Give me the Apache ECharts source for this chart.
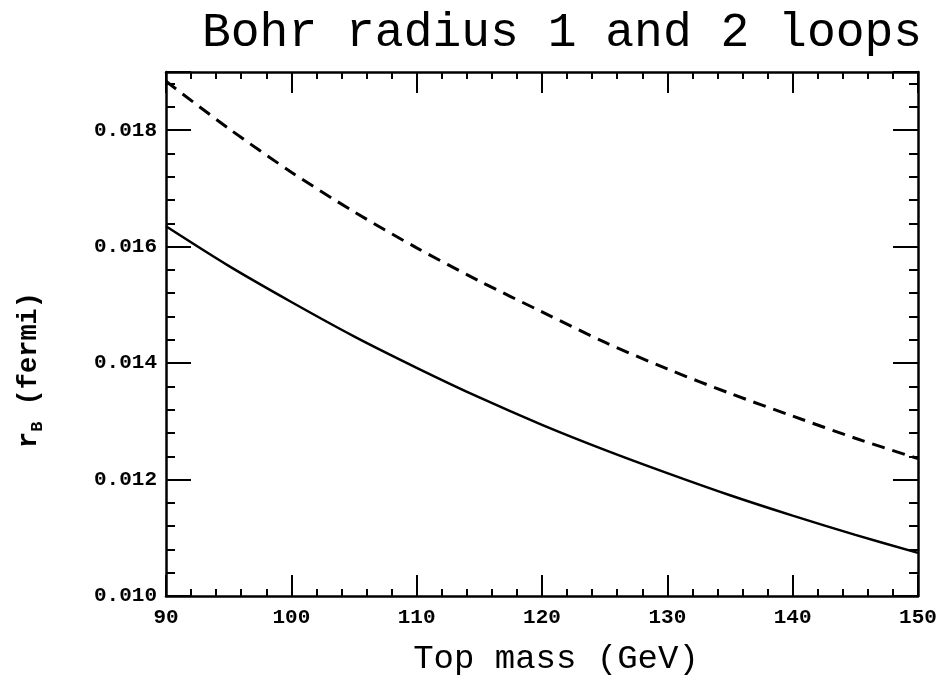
<!DOCTYPE html>
<html>
<head>
<meta charset="utf-8">
<script src="https://cdn.jsdelivr.net/npm/echarts@6/dist/echarts.min.js"></script>
<style>
html,body{margin:0;padding:0;background:#fff;}
#chart{width:942px;height:681px;}
</style>
</head>
<body>
<div id="chart"></div>
<script>
// Top mass (GeV)
const massGeV = [90, 95, 100, 105, 110, 115, 120, 125, 130, 135, 140, 145, 150];
// Bohr radius r_B (fermi), solid curve
const radiusSolid = [0.01635, 0.01567, 0.01505, 0.01446, 0.01392, 0.01341, 0.01294, 0.01251, 0.01211, 0.01173, 0.01138, 0.01105, 0.01074];
// Bohr radius r_B (fermi), dashed curve
const radiusDashed = [0.01884, 0.01803, 0.01728, 0.01660, 0.01598, 0.01541, 0.01488, 0.01436, 0.01390, 0.01348, 0.01309, 0.01271, 0.01236];

const xTickLabels = ['90', '100', '110', '120', '130', '140', '150'];
const yTickLabels = ['0.010', '0.012', '0.014', '0.016', '0.018'];

const chart = echarts.init(document.getElementById('chart'), null, {renderer: 'canvas'});

const FONT = '"Liberation Mono", "DejaVu Sans Mono", monospace';
const black = '#000';

function xAxisDef(pos, interval, tickLen, showLine, showLabel) {
  return {
    type: 'value', position: pos, min: 90, max: 150, interval: interval,
    axisLine: {show: showLine, onZero: false, lineStyle: {color: black, width: 2.5}},
    axisTick: {show: true, inside: true, length: tickLen, lineStyle: {color: black, width: 2}},
    splitLine: {show: false},
    axisLabel: showLabel ? {
      show: true, margin: 11, color: black, fontFamily: FONT, fontWeight: 'bold', fontSize: 21,
      formatter: function (v) {
        const i = Math.round((v - 90) / 10);
        return (Math.abs(v - (90 + 10 * i)) < 1e-6 && xTickLabels[i]) ? xTickLabels[i] : '';
      }
    } : {show: false}
  };
}
function yAxisDef(pos, interval, tickLen, showLine, showLabel) {
  return {
    type: 'value', position: pos, min: 0.010, max: 0.019, interval: interval,
    axisLine: {show: showLine, onZero: false, lineStyle: {color: black, width: 2.5}},
    axisTick: {show: true, inside: true, length: tickLen, lineStyle: {color: black, width: 2}},
    splitLine: {show: false},
    axisLabel: showLabel ? {
      show: true, margin: 9, color: black, fontFamily: FONT, fontWeight: 'bold', fontSize: 21,
      formatter: function (v) {
        const i = Math.round((v - 0.010) / 0.002);
        return (Math.abs(v - (0.010 + 0.002 * i)) < 1e-7 && yTickLabels[i]) ? yTickLabels[i] : '';
      }
    } : {show: false}
  };
}

const xMain = xAxisDef('bottom', 10, 21, true, true);
xMain.name = 'Top mass (GeV)';
xMain.nameLocation = 'middle';
xMain.nameGap = 46;
xMain.nameTextStyle = {color: black, fontFamily: FONT, fontSize: 34, padding: [0, 0, 0, 28]};

const option = {
  backgroundColor: '#fff',
  animation: false,
  title: {
    text: 'Bohr radius 1 and 2 loops',
    left: 197, top: 4,
    textStyle: {color: black, fontFamily: FONT, fontWeight: 'normal', fontSize: 48}
  },
  grid: {left: 166, right: 24, top: 72, bottom: 76, containLabel: false},
  xAxis: [
    xMain,
    xAxisDef('bottom', 2, 7, false, false),
    xAxisDef('top', 10, 21, true, false),
    xAxisDef('top', 2, 7, false, false)
  ],
  yAxis: [
    yAxisDef('left', 0.002, 25, true, true),
    yAxisDef('left', 0.0004, 9, false, false),
    yAxisDef('right', 0.002, 25, true, false),
    yAxisDef('right', 0.0004, 9, false, false)
  ],
  graphic: [{
    type: 'text',
    x: 29, y: 370,
    rotation: Math.PI / 2,
    style: {
      text: '{r|r}{s|B}{n| (fermi)}',
      align: 'center', verticalAlign: 'middle',
      fill: black,
      rich: {
        r: {fontFamily: FONT, fontWeight: 'bold', fontSize: 27, lineHeight: 34, verticalAlign: 'middle', fill: black},
        s: {fontFamily: FONT, fontWeight: 'bold', fontSize: 17, lineHeight: 17, verticalAlign: 'bottom', fill: black},
        n: {fontFamily: FONT, fontWeight: 'bold', fontSize: 27, lineHeight: 34, verticalAlign: 'middle', fill: black}
      }
    }
  }],
  series: [
    {
      name: 'solid', type: 'line', xAxisIndex: 0, yAxisIndex: 0,
      data: massGeV.map((m, i) => [m, radiusSolid[i]]),
      smooth: 0.3, showSymbol: false, symbol: 'none',
      lineStyle: {color: black, width: 2.5, type: 'solid'}
    },
    {
      name: 'dashed', type: 'line', xAxisIndex: 0, yAxisIndex: 0,
      data: massGeV.map((m, i) => [m, radiusDashed[i]]),
      smooth: 0.3, showSymbol: false, symbol: 'none',
      lineStyle: {color: black, width: 3, type: [13, 8]}
    }
  ]
};
chart.setOption(option);
</script>
</body>
</html>
